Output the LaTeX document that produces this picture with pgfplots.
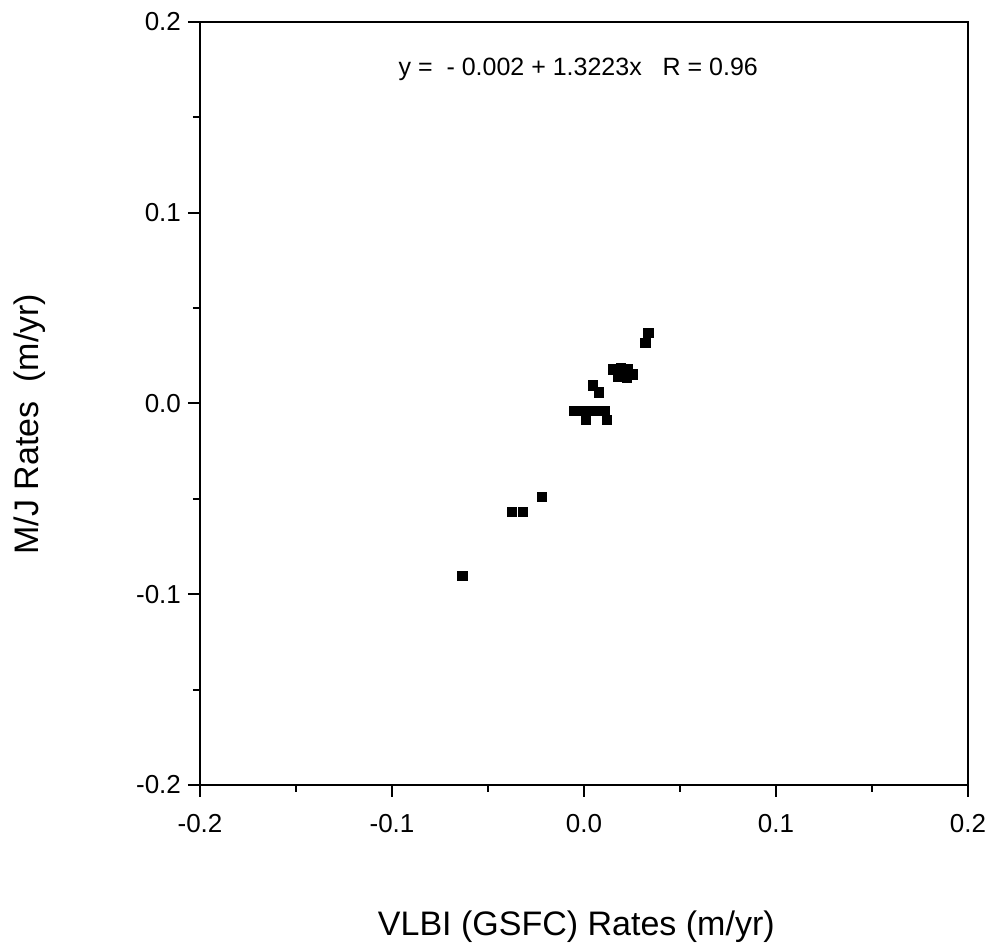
\documentclass[border=0pt]{standalone}
\usepackage{fontspec}
\setmainfont{Liberation Sans}
\usepackage{pgfplots}
\pgfplotsset{compat=1.18}

\begin{document}
\begin{tikzpicture}
  \begin{axis}[
    width=384pt, height=381.5pt, scale only axis,
    xmin=-0.2, xmax=0.2, ymin=-0.2, ymax=0.2,
    axis line style={line width=1.4pt},
    xtick={-0.2,-0.1,0,0.1,0.2}, xticklabels={-0.2,-0.1,0.0,0.1,0.2},
    ytick={-0.2,-0.1,0,0.1,0.2}, yticklabels={-0.2,-0.1,0.0,0.1,0.2},
    minor tick num=1,
    tick align=outside, xtick pos=bottom, ytick pos=left,
    major tick length=6pt, minor tick length=3.5pt,
    every tick/.style={black, line width=1pt},
    tick label style={font=\fontsize{13}{15}\selectfont},
    xticklabel style={yshift=-5pt},
    xlabel={VLBI (GSFC) Rates (m/yr)},
    ylabel={M/J Rates~~(m/yr)},
    label style={font=\fontsize{17}{20}\selectfont},
    xlabel style={at={([yshift=-71pt]axis description cs:0.49,0)}, anchor=center},
    ylabel style={at={([xshift=-85pt]axis description cs:0,0.473)}, anchor=center},
    clip=false,
  ]
    \addplot[only marks, mark=square*, mark size=2.3pt, black] coordinates {
      (-0.0633,-0.0902)
      (-0.0376,-0.0568) (-0.0318,-0.0568)
      (-0.0221,-0.0488)
      (-0.0052,-0.0037) (-0.0010,-0.0037) (0.0030,-0.0037) (0.0070,-0.0037) (0.0110,-0.0037)
      (0.0010,-0.0084) (0.0120,-0.0084)
      (0.0047,0.0095) (0.0078,0.0058)
      (0.0151,0.0179) (0.0193,0.0184) (0.0230,0.0179)
      (0.0177,0.0142) (0.0224,0.0137) (0.0256,0.0153)
      (0.0320,0.0317) (0.0335,0.0372)
    };
    \node[font=\fontsize{12.5}{15}\selectfont] at (axis cs:-0.003,0.175)
      {y =~ - 0.002 + 1.3223x~~~R = 0.96};
    \coordinate (ll) at (rel axis cs:0,0);
    \coordinate (ur) at (rel axis cs:1,1);
  \end{axis}
  \pgfresetboundingbox
  \path ([shift={(-100pt,-82.5pt)}]ll) rectangle ([shift={(13.5pt,11pt)}]ur);
\end{tikzpicture}
\end{document}
